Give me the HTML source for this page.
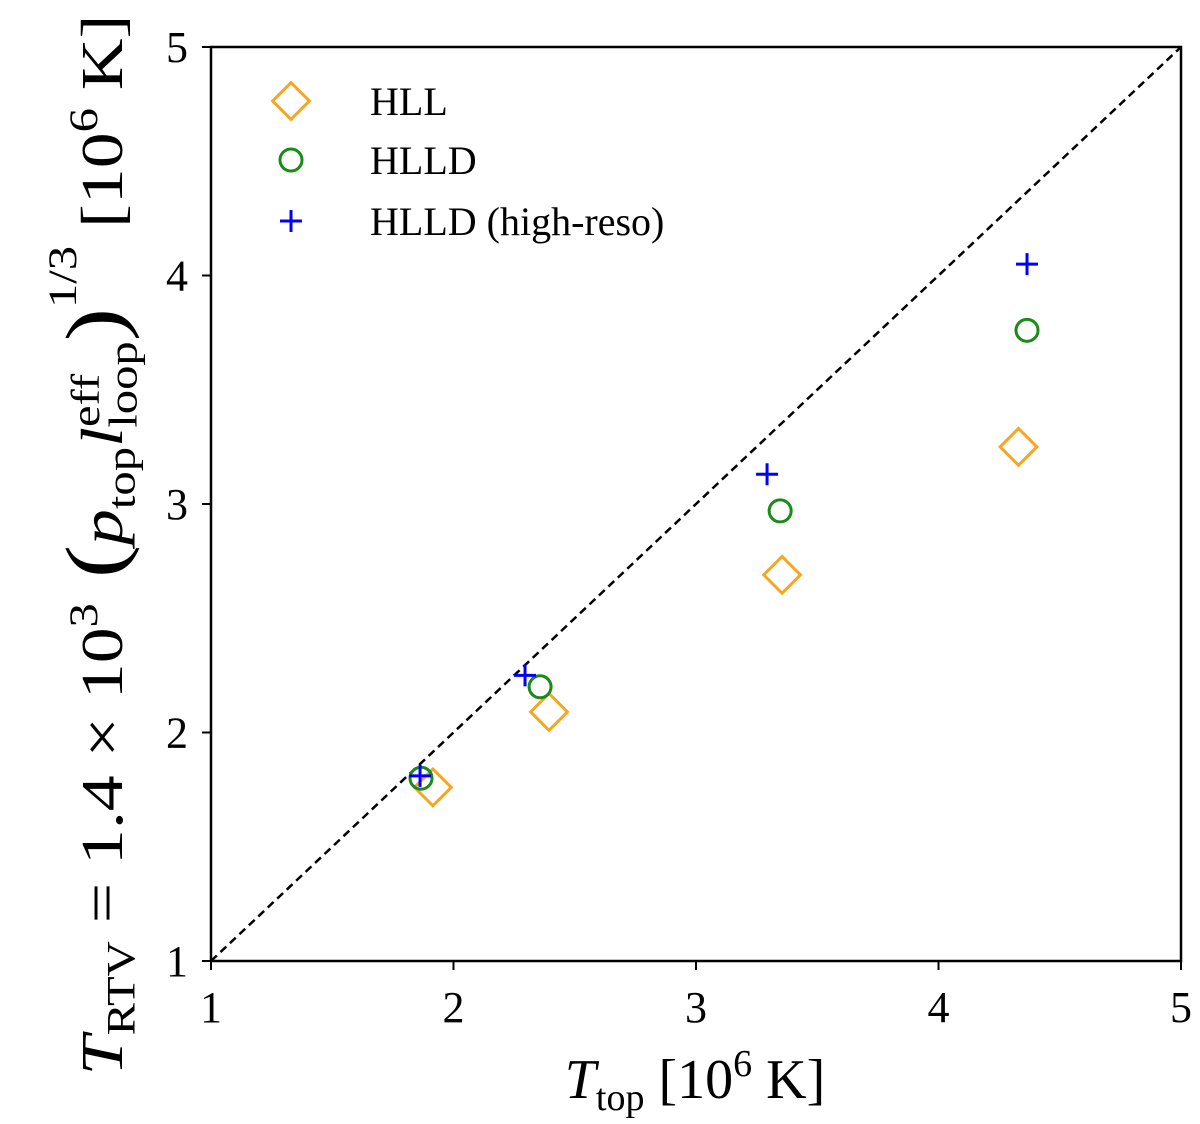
<!DOCTYPE html>
<html><head><meta charset="utf-8"><style>
html,body{margin:0;padding:0;background:#fff;}
svg{display:block;font-family:"Liberation Serif",serif;}
</style></head><body>
<svg id="chart" width="1200" height="1124" viewBox="0 0 1200 1124">
<g id="marks"></g>
<rect x="211" y="47" width="970" height="914" fill="none" stroke="#000" stroke-width="2.5"/>
<g id="ticks"></g>
<text x="695" y="1098" font-size="56" text-anchor="middle"><tspan font-style="italic">T</tspan><tspan font-size="38" dy="12">top</tspan><tspan dy="-12"> [10</tspan><tspan font-size="38" dy="-22">6</tspan><tspan dy="22"> K]</tspan></text>
<text transform="translate(122,545) rotate(-90) scale(1.28,1.05)" font-size="56" text-anchor="middle"><tspan font-style="italic">T</tspan><tspan font-size="38" dy="12">RTV</tspan><tspan dy="-12"> = 1.4 × 10</tspan><tspan font-size="38" dy="-24">3</tspan><tspan dy="24" font-size="78"> (</tspan><tspan font-style="italic">p</tspan><tspan font-size="38" dy="12">top</tspan><tspan font-style="italic" dy="-12">l</tspan><tspan font-size="38" dy="-22">eff</tspan><tspan font-size="38" dy="36" dx="-42">loop</tspan><tspan font-size="78" dy="-14">)</tspan><tspan font-size="38" dy="-44">1/3</tspan><tspan dy="44">  [10</tspan><tspan font-size="38" dy="-24">6</tspan><tspan dy="24"> K]</tspan></text>
<g id="legend">
<rect x="278" y="88" width="26" height="26" transform="rotate(45 291 101)" fill="none" stroke="#f5a623" stroke-width="3"/>
<text x="370" y="115" font-size="40">HLL</text>
<circle cx="291" cy="160" r="11" fill="none" stroke="#1a8a1a" stroke-width="3"/>
<text x="370" y="174" font-size="40">HLLD</text>
<path d="M280 221H302M291 210V232" stroke="#0000ff" stroke-width="3"/>
<text x="370" y="235" font-size="40">HLLD (high-reso)</text>
</g>
</svg>
<script>
const ticks = [1,2,3,4,5];
const hllX = [1.915,2.394,3.355,4.33];
const hllY = [1.76,2.09,2.69,3.25];
const hlldX = [1.866,2.357,3.347,4.365];
const hlldY = [1.80,2.20,2.97,3.76];
const hiresX = [1.862,2.295,3.293,4.365];
const hiresY = [1.81,2.25,3.13,4.05];
const NS="http://www.w3.org/2000/svg";
const sx=v=>211+(v-1)*242.5, sy=v=>961-(v-1)*228.5;
const marks=document.getElementById('marks'), tg=document.getElementById('ticks');
function mk(tag,attrs,parent){const e=document.createElementNS(NS,tag);for(const k in attrs)e.setAttribute(k,attrs[k]);parent.appendChild(e);return e;}
const diag=mk('line',{x1:sx(1),y1:sy(1),x2:sx(5),y2:sy(5),stroke:'#000','stroke-width':2.5,'stroke-dasharray':'8,5'},marks);


ticks.forEach(t=>{
 const a=mk('line',{x1:sx(t),y1:961,x2:sx(t),y2:970,stroke:'#000','stroke-width':2},tg);
 
 
 const b=mk('text',{x:sx(t),y:1022,'font-size':44,'text-anchor':'middle'},tg);b.textContent=t;
 
 
 const c=mk('line',{x1:202,y1:sy(t),x2:211,y2:sy(t),stroke:'#000','stroke-width':2},tg);
 
 
 const d=mk('text',{x:188,y:sy(t)+15,'font-size':44,'text-anchor':'end'},tg);d.textContent=t;
 
 
});
hllX.forEach((v,i)=>{const x=sx(v),y=sy(hllY[i]);
 const e=mk('rect',{x:x-13,y:y-13,width:26,height:26,transform:`rotate(45 ${x} ${y})`,fill:'none',stroke:'#f5a623','stroke-width':3},marks);
 
 });
hlldX.forEach((v,i)=>{
 const e=mk('circle',{cx:sx(v),cy:sy(hlldY[i]),r:11,fill:'none',stroke:'#1a8a1a','stroke-width':3},marks);
 
 });
hiresX.forEach((v,i)=>{const x=sx(v),y=sy(hiresY[i]);
 const e=mk('path',{d:`M${x-11} ${y}H${x+11}M${x} ${y-11}V${y+11}`,stroke:'#0000ff','stroke-width':3},marks);
 
 });
</script>
</body></html>
